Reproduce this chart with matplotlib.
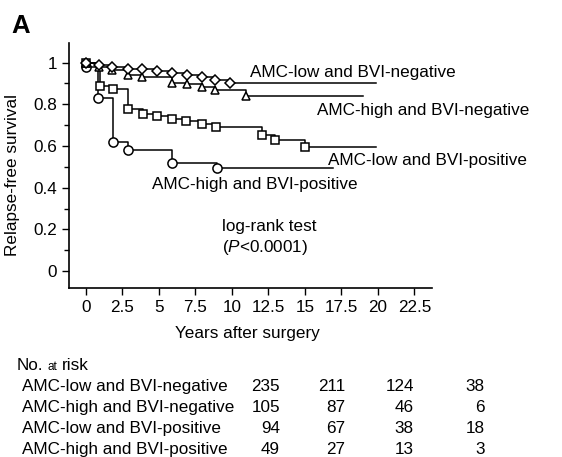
import numpy as np
import matplotlib.pyplot as plt
from matplotlib.ticker import MultipleLocator

plt.rcParams['font.family'] = ['Liberation Sans', 'DejaVu Sans']
plt.rcParams['font.size'] = 12.3
plt.rcParams['mathtext.fontset'] = 'custom'
plt.rcParams['mathtext.rm'] = 'Liberation Sans'
plt.rcParams['mathtext.it'] = 'Liberation Sans:italic'

W, H = 562, 457

# Kaplan-Meier steps (years, survival)
t_low_neg = [0, 0.91, 1.82, 2.88, 3.88, 4.86, 5.89, 6.92, 7.95, 8.86, 9.88]
s_low_neg = [1.0, 0.990, 0.978, 0.970, 0.968, 0.958, 0.951, 0.942, 0.930, 0.915, 0.903]
end_low_neg = 19.9

t_high_neg = [0, 0.91, 1.82, 2.88, 3.88, 5.89, 6.92, 7.95, 8.86, 11.0]
s_high_neg = [1.0, 0.978, 0.963, 0.942, 0.930, 0.903, 0.895, 0.883, 0.867, 0.840]
end_high_neg = 19.0

t_low_pos = [0, 0.95, 1.9, 2.9, 3.9, 4.9, 5.9, 6.9, 7.95, 8.9, 12.05, 12.95, 15.0]
s_low_pos = [1.0, 0.887, 0.873, 0.776, 0.753, 0.742, 0.729, 0.721, 0.705, 0.690, 0.652, 0.628, 0.596]
end_low_pos = 19.9

t_high_pos = [0, 0.86, 1.86, 2.88, 5.9, 8.97]
s_high_pos = [0.981, 0.828, 0.620, 0.580, 0.516, 0.496]
end_high_pos = 16.9

groups = ['AMC-low and BVI-negative', 'AMC-high and BVI-negative',
          'AMC-low and BVI-positive', 'AMC-high and BVI-positive']
at_risk = [[235, 211, 124, 38],
           [105, 87, 46, 6],
           [94, 67, 38, 18],
           [49, 27, 13, 3]]


def fx(x):
    return x / W


def fy(y):
    return 1 - y / H


fig = plt.figure(figsize=(W / 100, H / 100), dpi=100)
ax = fig.add_axes([fx(69), fy(287.5), fx(432 - 69), (287.5 - 43) / H])

curves = [
    (t_high_pos, s_high_pos, end_high_pos, 'o', 6.6),
    (t_low_pos, s_low_pos, end_low_pos, 's', 5.6),
    (t_high_neg, s_high_neg, end_high_neg, '^', 6.2),
    (t_low_neg, s_low_neg, end_low_neg, 'D', 5.6),
]
for i, (t, s, end, mk, ms) in enumerate(curves):
    tt = list(t) + [end]
    ss = list(s) + [s[-1]]
    ax.step(tt, ss, where='post', color='black', lw=1.1, zorder=2 + i)
    ax.plot(t, s, linestyle='none', marker=mk, ms=ms, mfc='white',
            mec='black', mew=1.1, zorder=2 + i, clip_on=False)

ax.set_xlim(-1.14, 23.7)
ax.set_ylim(-0.079, 1.094)
ax.set_xticks(np.arange(0, 23, 2.5))
ax.set_xticklabels(['0', '2.5', '5', '7.5', '10', '12.5', '15', '17.5', '20', '22.5'])
ax.set_yticks([0, 0.2, 0.4, 0.6, 0.8, 1.0])
ax.set_yticklabels(['0', '0.2', '0.4', '0.6', '0.8', '1'])
ax.yaxis.set_minor_locator(MultipleLocator(0.1))
ax.tick_params(axis='both', which='major', direction='out', length=5, width=1.0)
ax.tick_params(axis='y', which='minor', direction='out', length=3.5, width=1.0)
ax.tick_params(axis='x', pad=4)
ax.tick_params(axis='y', pad=3.5)
for sp in ['top', 'right']:
    ax.spines[sp].set_visible(False)
for sp in ['left', 'bottom']:
    ax.spines[sp].set_linewidth(1.2)

# curve labels
fig.text(fx(250), fy(77), groups[0], va='baseline')
fig.text(fx(316.7), fy(115.5), groups[1], va='baseline')
fig.text(fx(327.7), fy(164.5), groups[2], va='baseline')
fig.text(fx(151.7), fy(189.5), groups[3], va='baseline')

fig.text(fx(221.7), fy(230.7), 'log-rank test', va='baseline')
fig.text(fx(221.7), fy(252.3), '($\\it{P}$<0.0001)', va='baseline')

fig.text(fx(247.5), fy(338.3), 'Years after surgery', ha='center', va='baseline')
fig.text(fx(13), fy(175), 'Relapse-free survival', rotation=90,
         ha='center', va='center')

fig.text(fx(11.5), fy(33), 'A', fontsize=18.5, fontweight='bold', va='baseline')

# number at risk table
fig.text(fx(16.7), fy(369.5), 'No.', va='baseline')
fig.text(fx(47.5), fy(369.5), 'at', va='baseline', fontsize=8.5)
fig.text(fx(61.5), fy(369.5), 'risk', va='baseline')
col_right = [280, 345, 414, 485]
row_base = [391, 412, 433, 454]
for r, name in enumerate(groups):
    fig.text(fx(21.7), fy(row_base[r]), name, va='baseline')
    for c, n in enumerate(at_risk[r]):
        fig.text(fx(col_right[c]), fy(row_base[r]), str(n), ha='right', va='baseline')

fig.savefig('out.png', dpi=100)
